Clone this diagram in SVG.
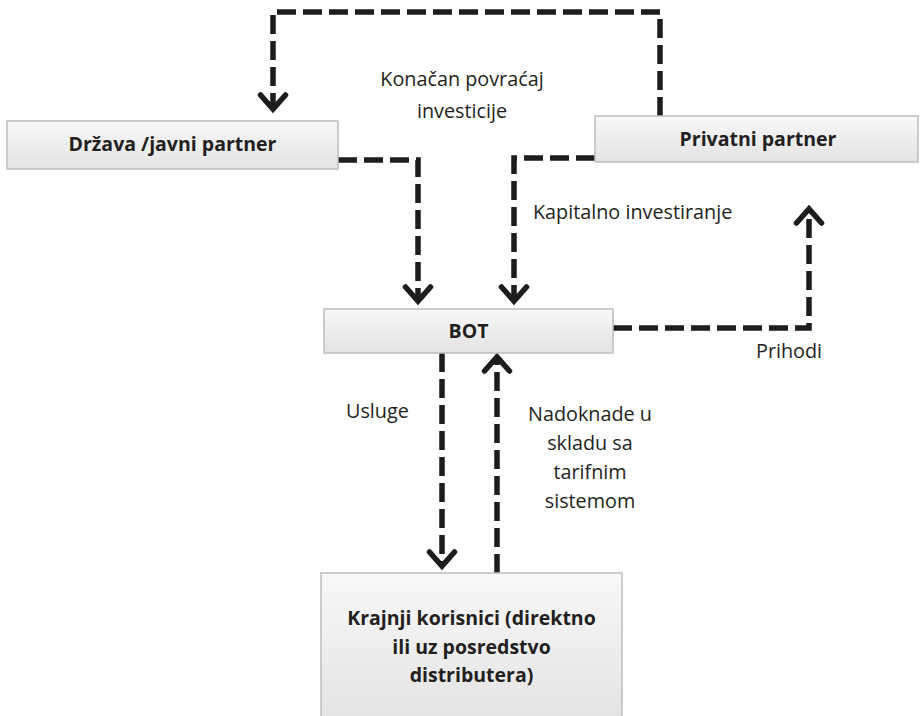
<svg xmlns="http://www.w3.org/2000/svg" width="921" height="716" viewBox="0 0 921 716">
<defs>
<linearGradient id="boxfill" x1="0" y1="0" x2="0" y2="1">
<stop offset="0" stop-color="#f8f8f8"/>
<stop offset="1" stop-color="#e3e3e3"/>
</linearGradient>
<marker id="arr" markerUnits="userSpaceOnUse" markerWidth="40" markerHeight="40" viewBox="-20 -20 40 40" refX="0" refY="0" orient="auto">
<path d="M-14,-12.5 L0,0 L-14,12.5" fill="none" stroke="#1e1c1c" stroke-width="5.5" stroke-linecap="round" stroke-linejoin="miter" stroke-miterlimit="10"/>
</marker>
<style>
.box{fill:url(#boxfill);stroke:#bdbdbd;stroke-width:1.5}
.lbl{font-family:"Open Sans","Noto Sans","Liberation Sans",sans-serif;font-size:19.8px;fill:#231f20}
.nl{font-family:"Open Sans","Noto Sans","Liberation Sans",sans-serif;font-size:19.5px;font-weight:bold;fill:#231f20;text-anchor:middle}
.con{fill:none;stroke:#1e1c1c;stroke-width:5.5;stroke-dasharray:19 7;marker-end:url(#arr)}
</style>
</defs>
<rect width="921" height="716" fill="#ffffff"/>
<g id="connectors">
<path class="con" d="M660,116 V12 H273 V109"/>
<path class="con" d="M338,160 H418 V301"/>
<path class="con" d="M595,158 H514 V301"/>
<path class="con" d="M613,328 H809 V209"/>
<path class="con" d="M442,353 V566"/>
<path class="con" d="M497,573 V357"/>
</g>
<g id="drzava">
<rect class="box" x="7" y="121" width="331" height="48"/>
<text class="nl" x="172.5" y="151">Država /javni partner</text>
</g>
<g id="privatni">
<rect class="box" x="595" y="116" width="323" height="46"/>
<text class="nl" x="758" y="146">Privatni partner</text>
</g>
<g id="bot">
<rect class="box" x="324" y="309" width="289" height="44"/>
<text class="nl" x="468.5" y="338">BOT</text>
</g>
<g id="krajnji">
<rect class="box" x="321" y="573" width="301" height="150"/>
<text class="nl" x="471.5" y="625">Krajnji korisnici (direktno</text>
<text class="nl" x="471.5" y="654">ili uz posredstvo</text>
<text class="nl" x="471.5" y="682">distributera)</text>
</g>
<g id="labels">
<text class="lbl" x="462" y="86" text-anchor="middle">Konačan povraćaj</text>
<text class="lbl" x="462" y="118" text-anchor="middle">investicije</text>
<text class="lbl" x="533" y="219">Kapitalno investiranje</text>
<text class="lbl" x="756" y="358">Prihodi</text>
<text class="lbl" x="346" y="418">Usluge</text>
<text class="lbl" x="590" y="421" text-anchor="middle">Nadoknade u</text>
<text class="lbl" x="590" y="450" text-anchor="middle">skladu sa</text>
<text class="lbl" x="590" y="479" text-anchor="middle">tarifnim</text>
<text class="lbl" x="590" y="508" text-anchor="middle">sistemom</text>
</g>
</svg>
